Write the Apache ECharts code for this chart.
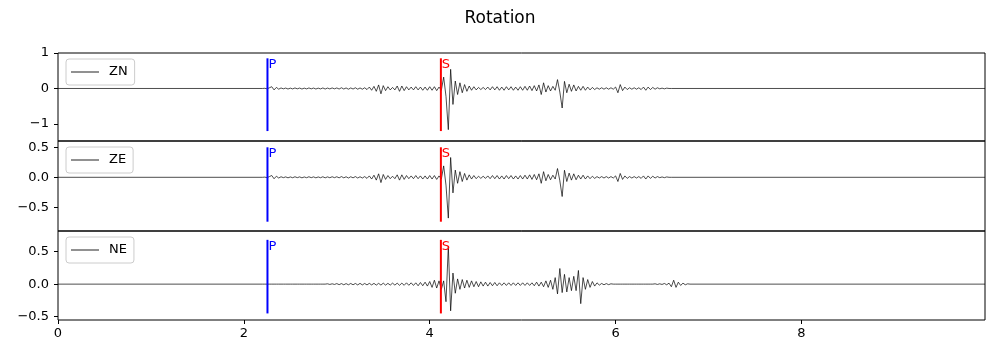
<!DOCTYPE html>
<html><head><meta charset="utf-8">
<script src="https://cdn.jsdelivr.net/npm/echarts@6/dist/echarts.min.js"></script>
<style>html,body{margin:0;padding:0;background:#fff}#c{width:1000px;height:359px}</style>
</head><body><div id="c"></div>
<script>
// ---------- data ----------
const chartTitle = 'Rotation';
const seriesNames = ['ZN', 'ZE', 'NE'];
const sampleStart = 2.2;     // s, time of first sample
const sampleStep = 0.025;    // s, sample spacing
const xLimits = [0, 9.975];
const xTickValues = [0, 2, 4, 6, 8];
const xTickLabels = ['0', '2', '4', '6', '8'];

const znValues = [
  0, 0.005, -0.01, 0.02, 0.05, -0.04, 0.03, -0.02,
  0.015, -0.01, 0.012, -0.015, 0.01, -0.012, 0.015, -0.01,
  0.012, -0.015, 0.01, -0.012, 0.015, -0.01, 0.012, -0.015,
  0.01, -0.012, 0.015, -0.015, 0.012, -0.012, 0.015, -0.01,
  0.015, -0.015, 0.02, -0.015, 0.015, -0.02, 0.015, -0.015,
  0.02, -0.02, 0.015, -0.02, 0.02, -0.03, 0.04, -0.05,
  0.06, -0.08, 0.1, -0.15, 0.08, -0.06, 0.05, -0.04,
  0.03, -0.04, 0.07, -0.08, 0.07, -0.06, 0.05, -0.04,
  0.04, -0.04, 0.05, -0.04, 0.04, -0.05, 0.04, -0.05,
  0.05, -0.05, 0.05, -0.06, 0.04, -0.05, 0.32, -0.22,
  -1.16, 0.54, -0.45, 0.21, -0.17, 0.16, -0.12, 0.11,
  -0.08, 0.07, -0.05, 0.05, -0.04, 0.03, -0.03, 0.03,
  -0.03, 0.04, -0.04, 0.05, -0.04, 0.05, -0.05, 0.04,
  -0.05, 0.05, -0.04, 0.05, -0.05, 0.04, -0.05, 0.05,
  -0.05, 0.06, -0.05, 0.07, -0.06, 0.08, -0.07, 0.1,
  -0.17, 0.16, -0.1, 0.08, -0.07, 0.06, -0.05, 0.25,
  -0.1, -0.55, 0.2, -0.12, 0.12, -0.08, 0.1, -0.07,
  0.06, -0.05, 0.06, -0.05, 0.04, -0.04, 0.03, -0.03,
  0.02, -0.02, 0.02, -0.02, 0.02, -0.02, 0.02, -0.02,
  0.04, -0.12, 0.11, -0.06, 0.04, -0.03, 0.02, -0.02,
  0.02, -0.02, 0.02, -0.03, 0.04, -0.05, 0.04, -0.03,
  0.03, -0.02, 0.02, -0.01, 0.01, -0.01, 0.01, 0
];
const zeValues = [
  0, 0.003, -0.006, 0.012, 0.03, -0.024, 0.018, -0.012,
  0.009, -0.006, 0.007, -0.009, 0.006, -0.007, 0.009, -0.006,
  0.007, -0.009, 0.006, -0.007, 0.009, -0.006, 0.007, -0.009,
  0.006, -0.007, 0.009, -0.009, 0.007, -0.007, 0.009, -0.006,
  0.009, -0.009, 0.012, -0.009, 0.009, -0.012, 0.009, -0.009,
  0.012, -0.012, 0.009, -0.012, 0.012, -0.018, 0.023, -0.029,
  0.035, -0.047, 0.058, -0.088, 0.047, -0.035, 0.029, -0.023,
  0.018, -0.023, 0.041, -0.047, 0.041, -0.035, 0.029, -0.023,
  0.023, -0.023, 0.029, -0.023, 0.023, -0.029, 0.023, -0.029,
  0.029, -0.029, 0.029, -0.035, 0.023, -0.029, 0.19, -0.13,
  -0.68, 0.33, -0.26, 0.12, -0.1, 0.094, -0.07, 0.064,
  -0.047, 0.041, -0.029, 0.029, -0.023, 0.018, -0.018, 0.018,
  -0.018, 0.023, -0.023, 0.029, -0.023, 0.029, -0.029, 0.023,
  -0.029, 0.029, -0.023, 0.029, -0.029, 0.023, -0.029, 0.029,
  -0.029, 0.035, -0.029, 0.041, -0.035, 0.047, -0.041, 0.058,
  -0.1, 0.094, -0.058, 0.047, -0.041, 0.035, -0.029, 0.146,
  -0.058, -0.32, 0.117, -0.07, 0.07, -0.047, 0.058, -0.041,
  0.035, -0.029, 0.035, -0.029, 0.023, -0.023, 0.018, -0.018,
  0.012, -0.012, 0.012, -0.012, 0.012, -0.012, 0.012, -0.012,
  0.023, -0.07, 0.064, -0.035, 0.023, -0.018, 0.012, -0.012,
  0.012, -0.012, 0.012, -0.018, 0.023, -0.029, 0.023, -0.018,
  0.018, -0.012, 0.012, -0.006, 0.006, -0.006, 0.006, 0
];
const neValues = [
  0, 0, 0, 0, 0, 0, 0, 0,
  0, 0, 0, 0, 0, 0, 0, 0,
  0, 0, 0, 0, 0, 0, 0, 0,
  0, 0, 0, 0, 0.005, -0.005, 0.005, -0.005,
  0.008, -0.008, 0.008, -0.01, 0.008, -0.01, 0.01, -0.01,
  0.01, -0.012, 0.012, -0.012, 0.01, -0.012, 0.012, -0.012,
  0.012, -0.015, 0.012, -0.015, 0.015, -0.015, 0.012, -0.015,
  0.015, -0.015, 0.015, -0.018, 0.015, -0.018, 0.02, -0.018,
  0.02, -0.02, 0.02, -0.025, 0.025, -0.025, 0.03, -0.03,
  0.04, -0.05, 0.06, -0.06, 0.05, -0.08, 0.05, -0.27,
  0.58, -0.41, 0.17, -0.14, 0.08, -0.08, 0.07, -0.06,
  0.06, -0.05, 0.05, -0.04, 0.04, -0.04, 0.035, -0.03,
  0.03, -0.03, 0.025, -0.025, 0.025, -0.025, 0.02, -0.02,
  0.02, -0.02, 0.02, -0.02, 0.02, -0.02, 0.02, -0.02,
  0.02, -0.02, 0.02, -0.02, 0.02, -0.025, 0.03, -0.03,
  0.03, -0.04, 0.05, -0.05, 0.06, -0.08, 0.1, -0.15,
  0.24, -0.13, 0.15, -0.12, 0.1, -0.1, 0.12, -0.1,
  0.21, -0.3, 0.1, -0.08, 0.07, -0.05, 0.04, -0.03,
  0.02, -0.015, 0.01, -0.01, 0.008, -0.008, 0.005, 0,
  0, 0, 0, 0, 0, 0, 0, 0,
  0, 0, 0, 0, 0, 0, 0, 0,
  0, 0.005, -0.005, 0.005, -0.005, 0.01, -0.01, 0.015,
  -0.04, 0.06, -0.05, 0.03, -0.02, 0.015, -0.01, 0.005
];

const phaseNames = ['P', 'S'];
const phaseTimes = [2.254, 4.12];
// vertical extent of the phase markers in each panel [low, high]
const phaseExtents = [[-1.20, 0.85], [-0.74, 0.50], [-0.45, 0.68]];

const yLimits = [[-1.48, 1.0], [-0.895, 0.605], [-0.551, 0.816]];
const yTickValues = [[-1, 0, 1], [-0.5, 0, 0.5], [-0.5, 0, 0.5]];
const yTickLabels = [['\u22121', '0', '1'], ['\u22120.5', '0.0', '0.5'], ['\u22120.5', '0.0', '0.5']];

// ---------- build ----------
const FONT = 'DejaVu Sans';
const waveValues = [znValues, zeValues, neValues];
function traceData(vals) {
  const d = [[xLimits[0], 0]];
  vals.forEach((v, i) => d.push([sampleStart + i * sampleStep, v]));
  d.push([sampleStart + vals.length * sampleStep, 0]);
  d.push([xLimits[1], 0]);
  return d;
}
const panels = [
  { top: 53, height: 88 },
  { top: 141, height: 90 },
  { top: 231, height: 89 }
];
const phaseColors = ['#0000ff', '#ff0000'];

const grid = [], xAxis = [], yAxis = [], series = [], legend = [];
panels.forEach((p, i) => {
  grid.push({ left: 58, right: 15, top: p.top, height: p.height, show: true,
              borderColor: '#000', borderWidth: 1, backgroundColor: 'transparent' });
  const last = i === panels.length - 1;
  xAxis.push({
    type: 'value', gridIndex: i, min: xLimits[0], max: xLimits[1], position: 'bottom',
    axisLine: { show: false, onZero: false },
    axisTick: { show: last, length: 4, lineStyle: { color: '#000' }, customValues: xTickValues },
    axisLabel: { show: last, margin: 7, color: '#000', fontSize: 13, fontFamily: FONT,
                 customValues: xTickValues,
                 formatter: v => { const k = xTickValues.indexOf(v); return k >= 0 ? xTickLabels[k] : ''; } },
    splitLine: { show: false }
  });
  yAxis.push({
    type: 'value', gridIndex: i, min: yLimits[i][0], max: yLimits[i][1], position: 'left',
    axisLine: { show: false, onZero: false },
    axisTick: { show: true, length: 4, lineStyle: { color: '#000' }, customValues: yTickValues[i] },
    axisLabel: { show: true, margin: 9, color: '#000', fontSize: 13, fontFamily: FONT,
                 customValues: yTickValues[i],
                 formatter: v => { const k = yTickValues[i].findIndex(t => Math.abs(t - v) < 1e-9); return k >= 0 ? yTickLabels[i][k] : ''; } },
    splitLine: { show: false }
  });
  series.push({
    name: seriesNames[i], type: 'line', xAxisIndex: i, yAxisIndex: i,
    data: traceData(waveValues[i]), symbol: 'none', clip: true,
    lineStyle: { color: '#000', width: 0.7 }, itemStyle: { color: '#000' },
    emphasis: { disabled: true }, silent: true, z: 3
  });
  phaseNames.forEach((ph, j) => {
    series.push({
      name: ph + i, type: 'line', xAxisIndex: i, yAxisIndex: i,
      data: [
        [phaseTimes[j], phaseExtents[i][0]],
        { value: [phaseTimes[j], phaseExtents[i][1]],
          label: { show: true, formatter: ph, position: [1, 0], color: phaseColors[j],
                   fontSize: 13, fontFamily: FONT } }
      ],
      symbol: 'circle', symbolSize: 0.1, showSymbol: true,
      lineStyle: { color: phaseColors[j], width: 2 }, itemStyle: { color: phaseColors[j] },
      label: { show: false }, emphasis: { disabled: true }, silent: true, z: 4
    });
  });
  legend.push({
    data: [seriesNames[i]], left: 66, top: p.top + 6, orient: 'vertical',
    backgroundColor: 'rgba(255,255,255,0.8)', borderColor: '#cccccc', borderWidth: 1,
    borderRadius: 3, padding: [5, 7, 5, 5], itemWidth: 28, itemHeight: 1,
    icon: 'rect', itemStyle: { color: '#222', borderWidth: 0 },
    textStyle: { fontSize: 13, fontFamily: FONT, color: '#000', padding: [0, 0, 0, 5], lineHeight: 16 },
    selectedMode: false
  });
});

const chart = echarts.init(document.getElementById('c'), null, { renderer: 'canvas' });
chart.setOption({
  animation: false,
  backgroundColor: '#fff',
  title: { text: chartTitle, left: 'center', top: 5,
           textStyle: { fontSize: 17, fontWeight: 'normal', color: '#000', fontFamily: FONT } },
  grid, xAxis, yAxis, series, legend
});
</script>
</body></html>
